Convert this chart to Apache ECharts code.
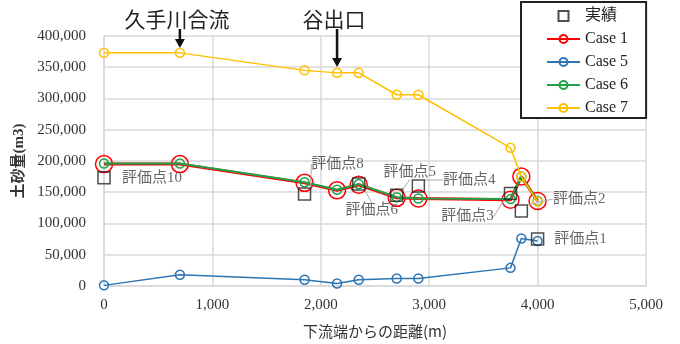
<!DOCTYPE html>
<html>
<head>
<meta charset="utf-8">
<script src="https://cdn.jsdelivr.net/npm/echarts@6/dist/echarts.min.js"></script>
<style>
  html, body { margin: 0; padding: 0; background: #fff; }
  #chart { width: 680px; height: 344px; }
</style>
</head>
<body>
<div id="chart"></div>
<script>
// distance from downstream end (m)
const dist = [0, 700, 1850, 2150, 2350, 2700, 2900, 3750, 3850, 4000];
const case1 = [195000, 195000, 165000, 153000, 162000, 141000, 140000, 138000, 175000, 136000];
const case5 = [1000, 18000, 10000, 4000, 10000, 12000, 12000, 29000, 76000, 72000];
const case6 = [196000, 196000, 166000, 154000, 163000, 142000, 140000, 139000, 175000, 136000];
const case7 = [373000, 373000, 345000, 341000, 341000, 306000, 306000, 221000, 175000, 135000];

// 実績 (observed) at evaluation points
const obsDist = [0, 1850, 2350, 2700, 2900, 3750, 3850, 4000];
const obsVal = [173000, 147000, 163000, 145000, 160000, 148000, 120000, 75000];
const obsLabel = ['評価点10', '評価点8', '評価点6', '評価点5', '評価点4', '評価点3', '評価点2', '評価点1'];

// annotations above the plot
const notes = [
    { name: '久手川合流', x: 700, len: 11 },
    { name: '谷出口', x: 2150, len: 30 }
];

// label shifts for evaluation point labels (px), and whether a leader line is drawn
const labelShift = [[48, 0], [33, -30], [13, 26], [13, -23], [51, -6], [-43, 23], [58, -12], [43, 0]];
const leader = [false, true, true, true, true, true, true, false];

const SERIF = '"Liberation Serif", "Noto Sans CJK JP", serif';
const GOTHIC = '"Noto Sans CJK JP", sans-serif';

function pairs(xs, ys) {
    return xs.map(function (x, i) { return [x, ys[i]]; });
}

function caseSeries(name, ys, color, lineWidth, symbolSize, z) {
    return {
        name: name,
        type: 'line',
        data: pairs(dist, ys),
        symbol: 'circle',
        symbolSize: symbolSize,
        z: z,
        lineStyle: { color: color, width: lineWidth },
        itemStyle: { color: 'rgba(0,0,0,0)', borderColor: color, borderWidth: 1.5 },
        emphasis: { disabled: true }
    };
}

const chart = echarts.init(document.getElementById('chart'));

const option = {
    animation: false,
    backgroundColor: '#fff',
    grid: { left: 104, right: 34, top: 36, bottom: 57 },
    legend: {
        orient: 'vertical',
        left: 521,
        top: 2,
        padding: [6, 18, 2, 25],
        itemWidth: 33,
        itemHeight: 10,
        itemGap: 7,
        backgroundColor: '#fff',
        borderColor: '#222',
        borderWidth: 2,
        textStyle: { fontFamily: SERIF, fontSize: 16, lineHeight: 16, color: '#222' },
        data: [
            { name: '実績', icon: 'path://M0,0H10V10H0Z' },
            'Case 1', 'Case 5', 'Case 6', 'Case 7'
        ]
    },
    xAxis: {
        type: 'value',
        min: 0,
        max: 5000,
        interval: 1000,
        name: '下流端からの距離(m)',
        nameLocation: 'middle',
        nameGap: 38,
        nameTextStyle: { fontFamily: GOTHIC, fontSize: 15, color: '#333' },
        axisLine: { lineStyle: { color: '#d9d9d9', width: 1.5 } },
        axisTick: { show: false },
        splitLine: { lineStyle: { color: '#d9d9d9', width: 1.5 } },
        axisLabel: {
            margin: 12,
            fontFamily: SERIF, fontSize: 15, color: '#333',
            formatter: function (v) { return v.toLocaleString('en-US'); }
        }
    },
    yAxis: {
        type: 'value',
        min: 0,
        max: 400000,
        interval: 50000,
        name: '土砂量(m3)',
        nameLocation: 'middle',
        nameGap: 76,
        nameRotate: 90,
        nameTextStyle: { fontFamily: SERIF, fontSize: 15, fontWeight: 'bold', color: '#333' },
        axisLine: { show: true, lineStyle: { color: '#d9d9d9', width: 1.5 } },
        axisTick: { show: false },
        splitLine: { lineStyle: { color: '#d9d9d9', width: 1.5 } },
        axisLabel: {
            margin: 18,
            fontFamily: SERIF, fontSize: 15, color: '#333',
            formatter: function (v) { return v.toLocaleString('en-US'); }
        }
    },
    series: [
        {
            name: '実績',
            type: 'scatter',
            data: pairs(obsDist, obsVal).map(function (v, i) {
                return { value: v, labelLine: { show: leader[i] } };
            }),
            symbol: 'rect',
            symbolSize: 12,
            z: 6,
            itemStyle: { color: 'rgba(0,0,0,0)', borderColor: '#222', borderWidth: 1.5 },
            emphasis: { disabled: true },
            label: {
                show: true,
                position: 'inside',
                fontFamily: SERIF,
                fontSize: 15,
                color: '#404040',
                formatter: function (p) { return obsLabel[p.dataIndex]; }
            },
            labelLine: { show: true, lineStyle: { color: '#aaa', width: 1 } },
            labelLayout: function (p) {
                const s = labelShift[p.dataIndex];
                return { dx: s[0], dy: s[1] };
            }
        },
        caseSeries('Case 1', case1, '#ff0000', 3, 17, 2),
        caseSeries('Case 5', case5, '#2e75b6', 1.5, 9, 3),
        caseSeries('Case 6', case6, '#22a04a', 2, 9, 4),
        caseSeries('Case 7', case7, '#ffc000', 1.5, 9, 5)
    ]
};

chart.setOption(option);

// arrows and river-point names, placed through the axis scale
const graphics = [];
notes.forEach(function (n) {
    const px = chart.convertToPixel({ xAxisIndex: 0, yAxisIndex: 0 }, [n.x, 0])[0];
    graphics.push({
        type: 'text',
        x: px - 3,
        y: 19,
        style: {
            text: n.name,
            fontFamily: GOTHIC,
            fontSize: 21,
            fill: '#222',
            align: 'center',
            verticalAlign: 'middle'
        }
    });
    graphics.push({
        type: 'line',
        shape: { x1: px, y1: 29, x2: px, y2: 29 + n.len },
        style: { stroke: '#111', lineWidth: 2.5 }
    });
    graphics.push({
        type: 'polygon',
        shape: { points: [[px - 5, 29 + n.len - 1], [px + 5, 29 + n.len - 1], [px, 29 + n.len + 8]] },
        style: { fill: '#111' }
    });
});
chart.setOption({ graphic: graphics });
</script>
</body>
</html>
